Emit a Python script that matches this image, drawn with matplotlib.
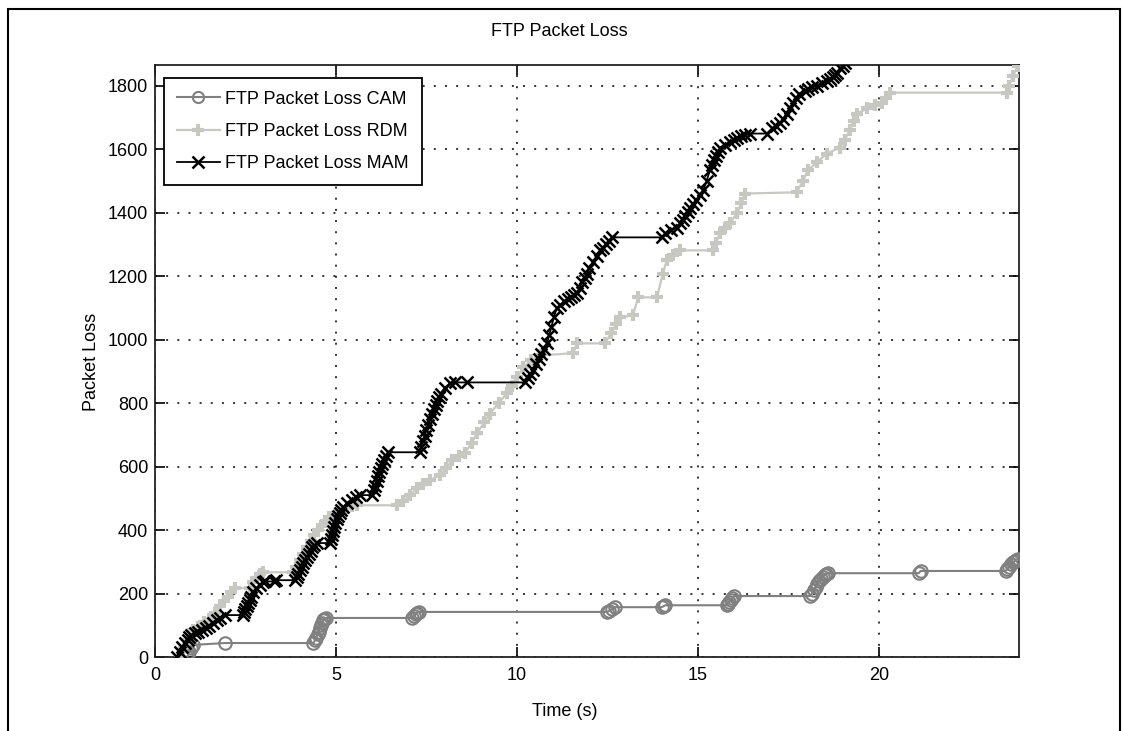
import matplotlib
matplotlib.use("Agg")
import matplotlib.pyplot as plt
from matplotlib import font_manager
from matplotlib.patches import Rectangle

# ---------------- data ----------------
cam_t = [0.88, 0.92, 0.95, 1.0, 1.05, 1.93, 4.37, 4.42, 4.45, 4.5, 4.52, 4.55, 4.58, 4.62,
         4.65, 4.68, 4.72, 7.1, 7.15, 7.2, 7.25, 7.3, 12.5, 12.55, 12.62, 12.7, 14.0, 14.05,
         14.1, 15.8, 15.82, 15.86, 15.9, 15.95, 16.0, 18.1, 18.15, 18.2, 18.25, 18.3, 18.35,
         18.4, 18.45, 18.5, 18.55, 18.6, 21.1, 21.15, 23.5, 23.55, 23.6, 23.65, 23.7, 23.75,
         23.8, 23.85]
cam_y = [0, 8, 15, 28, 38, 44, 44, 52, 60, 72, 80, 90, 100, 108,
         115, 120, 123, 123, 128, 134, 140, 142, 142, 146, 150, 157, 157, 160,
         163, 163, 168, 174, 180, 186, 192, 192, 200, 210, 220, 230, 238,
         245, 252, 258, 262, 264, 264, 271, 271, 278, 285, 292, 298, 302,
         306, 310]

rdm_t = [0.7, 0.8, 0.9, 1.05, 1.2, 1.35, 1.5, 1.65, 1.8, 1.9, 2.02, 2.1, 2.2, 2.62, 2.7,
         2.8, 2.9, 2.98, 3.81, 3.9, 4.0, 4.1, 4.2, 4.3, 4.4, 4.5, 4.6, 4.7, 4.8, 5.0, 5.15,
         5.3, 5.45, 5.58, 6.68, 6.85, 7.05, 7.24, 7.4, 7.6, 7.87, 8.05, 8.2, 8.4, 8.56, 8.75,
         8.9, 9.1, 9.25, 9.5, 9.72, 9.85, 10.0, 10.17, 10.4, 10.63, 11.55, 11.66, 12.43,
         12.6, 12.75, 12.85, 13.2, 13.35, 13.87, 14.03, 14.14, 14.3, 14.5, 15.41, 15.5, 15.6,
         15.75, 15.88, 16.08, 16.2, 16.3, 17.73, 17.9, 18.04, 18.3, 18.56, 18.92, 19.05,
         19.2, 19.3, 19.4, 19.67, 19.9, 20.08, 20.2, 20.3, 23.54, 23.6, 23.7, 23.84]
rdm_y = [0, 30, 55, 85, 95, 110, 120, 140, 160, 175, 189, 205, 217, 217, 235,
         250, 260, 267, 267, 285, 305, 325, 345, 365, 385, 400, 415, 425, 440, 453, 462,
         470, 476, 478, 478, 490, 510, 532, 545, 557, 573, 595, 620, 632, 642, 675,
         705, 740, 767, 800, 831, 855, 881, 913, 935, 950, 957, 988, 988,
         1020, 1050, 1070, 1076, 1133, 1133, 1208, 1250, 1265, 1281, 1281, 1305, 1335,
         1350, 1366, 1398, 1429, 1460, 1464, 1500, 1533, 1560, 1586, 1605, 1630,
         1659, 1690, 1712, 1728, 1738, 1746, 1762, 1778, 1778, 1800, 1830, 1863]

mam_t = [0.62, 0.68, 0.75, 0.82, 0.9, 0.95, 1.0, 1.1, 1.2, 1.3, 1.4, 1.5, 1.6, 1.7, 1.8,
         1.93, 2.43, 2.47, 2.5, 2.54, 2.58, 2.62, 2.65, 2.72, 2.8, 2.9, 2.98, 3.05, 3.3,
         3.35, 3.87, 3.91, 3.95, 4.0, 4.05, 4.1, 4.15, 4.2, 4.25, 4.3, 4.35, 4.4, 4.48,
         4.83, 4.86, 4.88, 4.92, 4.95, 4.98, 5.02, 5.06, 5.1, 5.15, 5.2, 5.3, 5.45, 5.55,
         5.66, 6.0, 6.04, 6.08, 6.12, 6.16, 6.2, 6.24, 6.28, 6.32, 6.38, 6.44, 7.32, 7.36,
         7.4, 7.45, 7.5, 7.55, 7.6, 7.65, 7.7, 7.75, 7.8, 7.85, 7.9, 8.0, 8.15, 8.3, 8.62,
         10.22, 10.3, 10.37, 10.44, 10.52, 10.6, 10.67, 10.75, 10.83, 10.89, 10.95, 11.02,
         11.1, 11.2, 11.3, 11.4, 11.5, 11.58, 11.66, 11.73, 11.8, 11.87, 11.93, 12.0, 12.1,
         12.2, 12.29, 12.37, 12.45, 12.53, 12.62, 14.0, 14.1, 14.25, 14.42, 14.5, 14.58,
         14.65, 14.72, 14.78, 14.87, 14.95, 15.05, 15.14, 15.24, 15.33, 15.4, 15.45, 15.5,
         15.55, 15.6, 15.75, 15.88, 16.0, 16.08, 16.2, 16.3, 16.44, 16.9, 17.05, 17.15,
         17.27, 17.35, 17.45, 17.55, 17.62, 17.7, 17.8, 17.95, 18.05, 18.15, 18.28, 18.42,
         18.56, 18.65, 18.73, 18.8, 18.85, 18.92, 19.0, 19.06]
mam_y = [0, 15, 30, 45, 55, 62, 68, 75, 80, 84, 90, 98, 106, 115, 124,
         132, 132, 142, 150, 160, 170, 180, 190, 205, 218, 228, 236, 238, 238,
         242, 242, 252, 262, 273, 285, 295, 305, 315, 325, 335, 345, 352, 359,
         359, 372, 385, 398, 410, 422, 435, 445, 455, 464, 472, 485, 495, 503,
         510, 510, 525, 540, 555, 570, 582, 595, 608, 620, 632, 645, 645, 662,
         680, 697, 715, 732, 750, 765, 780, 793, 805, 818, 830, 848, 862, 865, 865,
         865, 880, 892, 903, 922, 940, 955, 970, 988, 1013, 1040, 1070,
         1100, 1110, 1120, 1128, 1135, 1140, 1146, 1163, 1180, 1194, 1208, 1225, 1245,
         1263, 1281, 1290, 1300, 1311, 1322, 1322, 1335, 1345, 1353, 1366, 1378,
         1390, 1403, 1416, 1428, 1440, 1455, 1470, 1500, 1533, 1549, 1565, 1578,
         1590, 1605, 1613, 1621, 1628, 1634, 1640, 1645, 1649, 1649, 1665, 1673,
         1681, 1696, 1712, 1728, 1744, 1760, 1775, 1783, 1790, 1795, 1800, 1808,
         1816, 1821, 1826, 1833, 1840, 1854, 1862, 1870]

series_labels = ["FTP Packet Loss CAM", "FTP Packet Loss RDM", "FTP Packet Loss MAM"]
x_ticks = [0, 5, 10, 15, 20]
y_ticks = [0, 200, 400, 600, 800, 1000, 1200, 1400, 1600, 1800]

# ---------------- font ----------------
names = {f.name for f in font_manager.fontManager.ttflist}
if "Liberation Sans Narrow" in names:
    fam = ["Liberation Sans Narrow", "DejaVu Sans"]
    fs = 14.5
else:
    fam = ["Liberation Sans", "DejaVu Sans"]
    fs = 13
plt.rcParams["font.family"] = fam

W, H = 1125, 731
fig = plt.figure(figsize=(W / 100, H / 100), dpi=100)
fig.patch.set_facecolor("white")

L, R, B, T = 155, 1019, 657, 65
ax = fig.add_axes([L / W, 1 - B / H, (R - L) / W, (B - T) / H])

ax.plot(cam_t, cam_y, color="#808080", lw=1.5, marker="o", ms=9, mfc="none",
        mec="#808080", mew=1.5, label=series_labels[0], zorder=3)
ax.plot(rdm_t, rdm_y, color="#c8c8c3", lw=1.6, marker="+", ms=8, mew=3,
        mec="#c8c8c3", label=series_labels[1], zorder=4)
ax.plot(mam_t, mam_y, color="black", lw=1.3, marker="x", ms=8, mew=1.8,
        label=series_labels[2], zorder=5)

ax.set_xlim(0, 23.87)
ax.set_ylim(0, 1865)
ax.set_xticks(x_ticks)
ax.set_yticks(y_ticks)
ax.set_xticklabels([str(v) for v in x_ticks])
ax.set_yticklabels([str(v) for v in y_ticks])
ax.tick_params(direction="in", length=7, width=1.2, top=True, right=True,
               labelsize=fs, colors="black")
ax.tick_params(axis="x", pad=7)
ax.tick_params(axis="y", pad=5)
for s in ax.spines.values():
    s.set_linewidth(1.3)
    s.set_color("#222222")

ax.grid(True, color="black", linestyle=(0, (1.3, 6.0)), linewidth=1.1)
ax.set_axisbelow(True)

fig.text(559 / W, 1 - 31 / H, "FTP Packet Loss", ha="center", va="center", fontsize=fs)
fig.text(565 / W, 1 - 711 / H, "Time (s)", ha="center", va="center", fontsize=fs)
fig.text(92 / W, 1 - 362 / H, "Packet Loss", ha="center", va="center",
         rotation=90, fontsize=fs)

leg = ax.legend(loc="upper left", bbox_to_anchor=(9 / (R - L), 1 - 13 / (B - T)),
                borderaxespad=0, fancybox=False, fontsize=fs, handlelength=2.4,
                handletextpad=0.3, labelspacing=0.85, borderpad=0.7, framealpha=1)
leg.get_frame().set_edgecolor("black")
leg.get_frame().set_linewidth(1.3)
for h in leg.legend_handles:
    h.set_markersize(8)

# outer frame of the picture
fig.patches.append(Rectangle((8 / W, -0.01), (1120 - 8) / W, 1 - 9 / H + 0.01,
                             transform=fig.transFigure, fill=False,
                             edgecolor="black", linewidth=1.5))

fig.savefig("out.png", dpi=100)
